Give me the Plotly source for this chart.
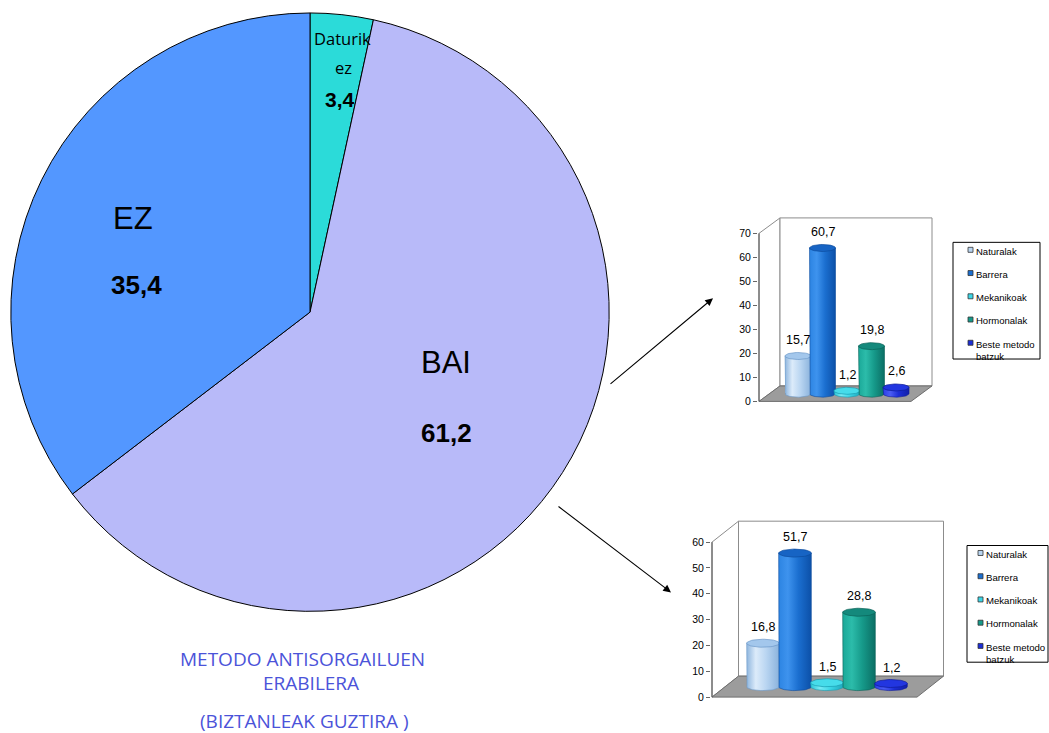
import numpy as np
import plotly.graph_objects as go

W, H = 1049, 733

# ---- data -------------------------------------------------------------
PIE_LABELS = ["Daturik ez", "BAI", "EZ"]
PIE_VALUES = [3.4, 61.2, 35.4]
PIE_COLORS = ["#2BDBD9", "#B8BAF9", "#5397FF"]

METHODS = ["Naturalak", "Barrera", "Mekanikoak", "Hormonalak", "Beste metodo batzuk"]
METHOD_LEGEND = ["Naturalak", "Barrera", "Mekanikoak", "Hormonalak", "Beste metodo<br>batzuk"]
VALUES_TOP = [15.7, 60.7, 1.2, 19.8, 2.6]
VALUES_BOTTOM = [16.8, 51.7, 1.5, 28.8, 1.2]
TICKS_TOP = [0, 10, 20, 30, 40, 50, 60, 70]
TICKS_BOTTOM = [0, 10, 20, 30, 40, 50, 60]

TITLE_LINES = ["METODO ANTISORGAILUEN", "ERABILERA", "(BIZTANLEAK GUZTIRA )"]

# cylinder colours: (left edge, highlight, body, right edge, top, outline)
CYL = [
    ("#8FB6DE", "#DCEBFA", "#B9D5F1", "#8AB2DC", "#A3C7EC", "#6C98C8"),
    ("#2C84E2", "#3E93EE", "#1B6FD0", "#0C50A8", "#1764C4", "#0B4A9C"),
    ("#28C4D6", "#78EAF4", "#3CD6E6", "#1FA8BC", "#46DCEA", "#1A9CB0"),
    ("#1AA898", "#2CBCAA", "#169A8A", "#0B6E64", "#14897C", "#0A6258"),
    ("#2B3CE6", "#4A5CF4", "#1C2ED6", "#1220A8", "#2236E0", "#101C98"),
]
LEGEND_SWATCH = ["#B9D5F1", "#1B6FD0", "#3CD6E6", "#169A8A", "#1C2ED6"]


def fmt(v):
    return f"{v:.1f}".replace(".", ",")


def px_x(px):
    return px / W


def px_y(py):
    return 1 - py / H


fig = go.Figure()
annotations = []
shapes = []

# ---- pie ----------------------------------------------------------------
fig.add_trace(go.Pie(
    labels=PIE_LABELS, values=PIE_VALUES, sort=False, direction="clockwise",
    rotation=0, textinfo="none", hoverinfo="label+value",
    marker=dict(colors=PIE_COLORS, line=dict(color="#000000", width=1)),
    domain=dict(x=[px_x(10), px_x(610)], y=[px_y(613), px_y(13)]),
    showlegend=False,
))

LBL = "Liberation Sans, Arial, sans-serif"
# slice captions: name + value
pie_text = {
    "Daturik ez": dict(name_pos=[(342, 39), (343, 68)], name_size=16.5, name_font="Open Sans",
                       val_pos=(340, 100), val_size=21),
    "BAI": dict(name_pos=[(446, 363)], name_size=31, name_font=LBL, val_pos=(446, 434), val_size=26),
    "EZ": dict(name_pos=[(133, 219)], name_size=31, name_font=LBL, val_pos=(136, 286), val_size=26),
}
for lab, val in zip(PIE_LABELS, PIE_VALUES):
    spec = pie_text[lab]
    words = lab.split(" ") if len(spec["name_pos"]) > 1 else [lab]
    for w, (x, y) in zip(words, spec["name_pos"]):
        annotations.append(dict(x=px_x(x), y=px_y(y), xref="paper", yref="paper", text=w,
                                showarrow=False, xanchor="center", yanchor="middle",
                                font=dict(family=spec["name_font"], size=spec["name_size"], color="#000")))
    vx, vy = spec["val_pos"]
    annotations.append(dict(x=px_x(vx), y=px_y(vy), xref="paper", yref="paper", text=f"<b>{fmt(val)}</b>",
                            showarrow=False, xanchor="center", yanchor="middle",
                            font=dict(family=LBL, size=spec["val_size"], color="#000")))

# caption under the pie
for text, (x, y) in zip(TITLE_LINES, [(302, 661), (311, 685), (304, 723)]):
    annotations.append(dict(x=px_x(x), y=px_y(y), xref="paper", yref="paper", text=text,
                            showarrow=False, xanchor="center", yanchor="middle",
                            font=dict(family="Open Sans", size=19, color="#4B53D9")))

# arrows from the pie to the detail charts
for (tx, ty), (hx, hy) in [((609, 386), (713, 299)), ((557, 507), (671, 594))]:
    annotations.append(dict(x=px_x(hx), y=px_y(hy), xref="paper", yref="paper", text="",
                            showarrow=True, ax=tx - hx, ay=ty - hy, arrowhead=2, arrowsize=1.4,
                            arrowwidth=1.1, arrowcolor="#000", standoff=0))

# ---- 3-D style cylinder charts ----------------------------------------
CHARTS = [
    dict(values=VALUES_TOP, ticks=TICKS_TOP, ax="", origin=(759, 402.5), sx=24.5, sy=2.407,
         bar0=798, depth=(21, 15.5), front_right=911, box=(758, 942, 213, 406),
         ell=3.5, half_w=0.53, legend=(953, 243, 1040, 360), lfont=9.5, sq_off=15),
    dict(values=VALUES_BOTTOM, ticks=TICKS_BOTTOM, ax="2", origin=(712, 699), sx=32, sy=2.59,
         bar0=763, depth=(26.5, 21), front_right=917, box=(711, 952, 518, 703),
         ell=4.0, half_w=0.51, legend=(967, 547, 1048, 664), lfont=9.6, sq_off=11),
]
LEGEND_STEP = 23.3

layout_axes = {}
for ch in CHARTS:
    xa, ya = "x" + ch["ax"], "y" + ch["ax"]
    ox, oy = ch["origin"]
    sx, sy = ch["sx"], ch["sy"]
    X0 = ch["bar0"] - ch["depth"][0] / 2
    bx0, bx1, by0, by1 = ch["box"]
    ymax = ch["ticks"][-1]
    DXu = ch["depth"][0] / sx
    DYu = ch["depth"][1] / sy
    xL = (ox - X0) / sx
    xR = (ch["front_right"] - X0) / sx

    layout_axes["xaxis" + ch["ax"]] = dict(
        domain=[px_x(bx0), px_x(bx1)], range=[(bx0 - X0) / sx, (bx1 - X0) / sx],
        visible=False, anchor=ya, fixedrange=True)
    layout_axes["yaxis" + ch["ax"]] = dict(
        domain=[px_y(by1), px_y(by0)], range=[(oy - by1) / sy, (oy - by0) / sy],
        anchor=xa, tickvals=ch["ticks"], ticktext=[str(t) for t in ch["ticks"]],
        ticks="outside", ticklen=4, tickcolor="#666", tickwidth=1,
        showgrid=False, zeroline=False, showline=False, fixedrange=True,
        tickfont=dict(family=LBL, size=10.5, color="#000"))

    # walls and floor
    wall = dict(xref=xa, yref=ya, layer="below", line=dict(color="#8C8C8C", width=1))
    shapes.append(dict(type="path", fillcolor="#FFFFFF",
                       path=f"M{xL},0 L{xL},{ymax} L{xL+DXu},{ymax+DYu} L{xL+DXu},{DYu} Z", **wall))
    shapes.append(dict(type="rect", fillcolor="#FFFFFF", x0=xL + DXu, x1=xR + DXu,
                       y0=DYu, y1=ymax + DYu, **wall))
    shapes.append(dict(type="path", fillcolor="#9C9C9C", xref=xa, yref=ya, layer="below",
                       line=dict(color="#6E6E6E", width=1),
                       path=f"M{xL},0 L{xR},0 L{xR+DXu},{DYu} L{xL+DXu},{DYu} Z"))
    shapes.append(dict(type="line", xref=xa, yref=ya, layer="below", x0=xL, x1=xL, y0=0, y1=ymax,
                       line=dict(color="#555555", width=1)))

    base = DYu / 2
    hw = ch["half_w"]
    e = ch["ell"] / sy
    cx = [i + DXu / 2 for i in range(len(METHODS))]

    fig.add_trace(go.Bar(x=cx, y=ch["values"], base=base, width=2 * hw, xaxis=xa, yaxis=ya,
                         marker=dict(color=[c[2] for c in CYL], line=dict(width=0)),
                         hovertext=METHODS, hoverinfo="text+y", showlegend=False))

    t_bot = np.linspace(np.pi, 2 * np.pi, 30)
    t_all = np.linspace(0, 2 * np.pi, 60)
    for i, (v, c) in enumerate(zip(ch["values"], CYL)):
        top = base + v
        bx = [cx[i] - hw] + list(cx[i] + hw * np.cos(t_bot)) + [cx[i] + hw, cx[i] - hw]
        byv = [top] + list(base + e * np.sin(t_bot)) + [top, top]
        fig.add_trace(go.Scatter(
            x=bx, y=byv, xaxis=xa, yaxis=ya, mode="lines", fill="toself",
            line=dict(color=c[5], width=0.6),
            fillgradient=dict(type="horizontal",
                              colorscale=[[0, c[0]], [0.28, c[1]], [0.6, c[2]], [1, c[3]]]),
            hoverinfo="skip", showlegend=False))
        fig.add_trace(go.Scatter(
            x=list(cx[i] + hw * np.cos(t_all)), y=list(top + e * np.sin(t_all)),
            xaxis=xa, yaxis=ya, mode="lines", fill="toself", fillcolor=c[4],
            line=dict(color=c[5], width=0.7), hoverinfo="skip", showlegend=False))
        annotations.append(dict(x=cx[i], y=top, xref=xa, yref=ya, text=fmt(v), showarrow=False,
                                yshift=16, xanchor="center", yanchor="middle",
                                font=dict(family=LBL, size=12.5, color="#000")))

    # legend box
    lx0, ly0, lx1, ly1 = ch["legend"]
    shapes.append(dict(type="rect", xref="paper", yref="paper", x0=px_x(lx0), x1=px_x(lx1),
                       y0=px_y(ly1), y1=px_y(ly0), line=dict(color="#000", width=1),
                       fillcolor="#FFFFFF"))
    for k, (name, col) in enumerate(zip(METHOD_LEGEND, LEGEND_SWATCH)):
        yc = ly0 + 7.5 + k * LEGEND_STEP
        sq_x = lx0 + ch["sq_off"]
        shapes.append(dict(type="rect", xref="paper", yref="paper",
                           x0=px_x(sq_x), x1=px_x(sq_x + 5), y0=px_y(yc + 2.5), y1=px_y(yc - 2.5),
                           fillcolor=col, line=dict(color="#333", width=0.8)))
        annotations.append(dict(x=px_x(sq_x + 6), y=px_y(yc - ch["lfont"] * 0.65), xref="paper",
                                yref="paper", text=name, showarrow=False, xanchor="left",
                                yanchor="top", align="left",
                                font=dict(family=LBL, size=ch["lfont"], color="#000")))

fig.update_layout(
    width=W, height=H, margin=dict(l=0, r=0, t=0, b=0),
    paper_bgcolor="#FFFFFF", plot_bgcolor="rgba(0,0,0,0)",
    showlegend=False, bargap=0, shapes=shapes, annotations=annotations,
    **layout_axes,
)

fig.write_html("out.html")
